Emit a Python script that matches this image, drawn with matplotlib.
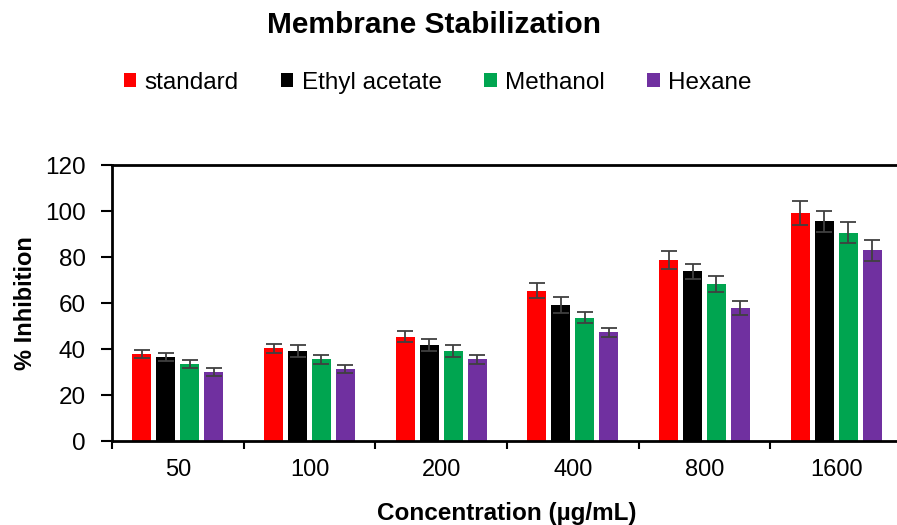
#!/usr/bin/env python3
import matplotlib

matplotlib.use("Agg")
import matplotlib.pyplot as plt
import numpy as np

concentrations = ["50", "100", "200", "400", "800", "1600"]
series_names = ["standard", "Ethyl acetate", "Methanol", "Hexane"]
standard = [37.8, 40.3, 45.4, 65.4, 78.7, 99.0]
ethyl_acetate = [36.4, 39.0, 41.7, 59.1, 73.8, 95.5]
methanol = [33.5, 35.5, 39.0, 53.6, 68.3, 90.6]
hexane = [30.0, 31.3, 35.5, 47.2, 57.8, 82.9]
standard_err = [1.8, 2.0, 2.4, 3.3, 4.0, 5.3]
ethyl_acetate_err = [1.7, 2.6, 2.6, 3.5, 3.3, 4.5]
methanol_err = [1.7, 1.9, 2.6, 2.5, 3.3, 4.6]
hexane_err = [1.7, 1.9, 1.9, 1.9, 3.2, 4.6]
y_ticks = [0, 20, 40, 60, 80, 100, 120]

colors = ["#ff0000", "#000000", "#00a550", "#7030a0"]

plt.rcParams.update({
    "font.family": ["Liberation Sans", "DejaVu Sans"],
    "figure.facecolor": "white",
    "axes.facecolor": "white",
})

fig = plt.figure(figsize=(8.97, 5.25), dpi=100)
ax = fig.add_axes([112 / 897, 84 / 525, 790 / 897, 276 / 525])

values = [standard, ethyl_acetate, methanol, hexane]
errors = [standard_err, ethyl_acetate_err, methanol_err, hexane_err]
x = np.arange(len(concentrations))
width = 0.145
step = 0.182
handles = []
for i, (vals, errs, c, name) in enumerate(zip(values, errors, colors, series_names)):
    pos = x + (i - 1.5) * step
    b = ax.bar(pos, vals, width=width, color=c, label=name, zorder=2)
    ax.errorbar(pos, vals, yerr=errs, fmt="none", ecolor="#404040", elinewidth=1.3,
                capsize=6, capthick=1.3, zorder=3)
    handles.append(b)

ax.set_xlim(-0.5, len(concentrations) - 0.5)
ax.set_ylim(0, 120)
ax.set_yticks(y_ticks)
ax.set_xticks(x)
ax.set_xticklabels(concentrations)
ax.set_xticks(np.arange(len(concentrations) + 1) - 0.5, minor=True)
ax.tick_params(axis="x", which="major", length=0, labelsize=17, pad=13)
ax.tick_params(axis="x", which="minor", length=6, width=1.5, direction="out")
ax.tick_params(axis="y", length=8, width=1.5, direction="out", labelsize=17.5, pad=11)

for side in ["left", "bottom", "top"]:
    ax.spines[side].set_linewidth(2)
ax.spines["right"].set_visible(False)

ax.set_ylabel("% Inhibition", fontsize=17, fontweight="bold", labelpad=6)
ax.set_xlabel("Concentration (µg/mL)", fontsize=17.5, fontweight="bold", labelpad=15)

fig.text(0.484, 0.952, "Membrane Stabilization", ha="center", va="center",
         fontsize=21.5, fontweight="bold")
fig.legend(handles, series_names, ncol=4, loc="center", bbox_to_anchor=(0.488, 0.842),
           frameon=False, fontsize=17.5, handlelength=0.5, handleheight=0.5,
           handletextpad=0.35, columnspacing=1.75)

fig.savefig("out.png", dpi=100)
plt.close(fig)
